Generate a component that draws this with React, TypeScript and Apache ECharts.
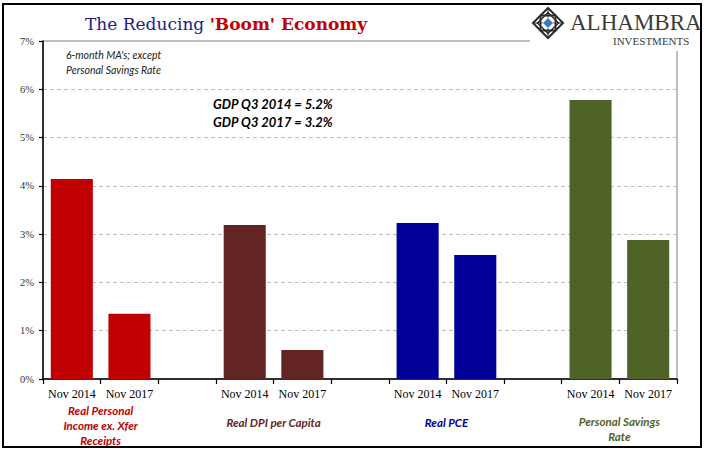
import React, { useEffect, useRef } from "react";
import * as echarts from "echarts";

const periodLabels = ["Nov 2014", "Nov 2017"];
const groupNames = [
  "Real Personal\nIncome ex. Xfer\nReceipts",
  "Real DPI per Capita",
  "Real PCE",
  "Personal Savings\nRate",
];
const incomeExXfer = [4.14, 1.35];
const dpiPerCapita = [3.19, 0.6];
const realPCE = [3.23, 2.57];
const savingsRate = [5.78, 2.88];
const yTicks = [0, 1, 2, 3, 4, 5, 6, 7];
const noteLines = ["6-month MA's; except", "Personal Savings Rate"];
const gdpLines = ["GDP Q3 2014 = 5.2%", "GDP Q3 2017 = 3.2%"];

const groupColors = ["#C00000", "#632523", "#000099", "#4F6228"];
const groupLabelY = [425, 422, 422, 429];

export default function App() {
  const ref = useRef<HTMLDivElement>(null);
  useEffect(() => {
    if (!ref.current) return;
    const chart = echarts.init(ref.current, null, { renderer: "svg" });
    const groups = [incomeExXfer, dpiPerCapita, realPCE, savingsRate];
    const categories: string[] = [];
    const data: any[] = [];
    groups.forEach((vals, gi) => {
      if (gi > 0) {
        categories.push("");
        data.push(null);
      }
      vals.forEach((v, pi) => {
        categories.push(periodLabels[pi]);
        data.push({ value: v, itemStyle: { color: groupColors[gi] } });
      });
    });

    chart.setOption({
      animation: false,
      grid: {
        left: 43,
        right: 28,
        top: 41,
        bottom: 82,
        show: true,
        borderColor: "#808080",
        borderWidth: 1,
        backgroundColor: "transparent",
      },
      xAxis: {
        type: "category",
        data: categories,
        axisLine: { lineStyle: { color: "#000", width: 1.5 } },
        axisTick: { show: true, length: 5, lineStyle: { color: "#000", width: 1.2 }, interval: 0 },
        axisLabel: {
          interval: 0,
          margin: 9,
          fontFamily: "Liberation Serif",
          fontSize: 12,
          color: "#000",
        },
        splitLine: { show: false },
      },
      yAxis: {
        type: "value",
        min: yTicks[0],
        max: yTicks[yTicks.length - 1],
        interval: 1,
        axisLine: { show: true, lineStyle: { color: "#000", width: 1.5 } },
        axisTick: { show: true, length: 4, lineStyle: { color: "#000", width: 1.2 } },
        axisLabel: {
          margin: 9,
          fontFamily: "Liberation Serif",
          fontSize: 10.5,
          color: "#333",
          formatter: (v: number) => `${v}%`,
        },
        splitLine: { show: true, lineStyle: { color: "#C0C0C0", type: [4, 3], width: 1 } },
      },
      series: [
        {
          type: "bar",
          data,
          barWidth: "73%",
        },
      ],
    });

    const px = (i: number) => chart.convertToPixel({ xAxisIndex: 0 }, i) as number;
    const py = (v: number) => chart.convertToPixel({ yAxisIndex: 0 }, v) as number;
    const groupText: any[] = groupNames.map((name, gi) => {
      const i0 = gi * 3;
      const cx = (px(i0) + px(i0 + 1)) / 2;
      return {
        type: "text",
        x: cx,
        y: groupLabelY[gi],
        style: {
          text: name,
          align: "center",
          verticalAlign: "middle",
          fontFamily: "Lato",
          fontStyle: "italic",
          fontWeight: "bold",
          fontSize: 11.5,
          lineHeight: 15,
          fill: groupColors[gi],
        },
      };
    });

    const left = px(0) - (px(1) - px(0)) / 2;
    const noteX = left + 23;

    // logo lattice
    const lcx = 548;
    const lcy = 23;
    const r = 15;
    const dark = "#2b2b2b";
    const logo: any[] = [
      {
        type: "polygon",
        z: 70,
        shape: { points: [[lcx, lcy - r], [lcx + r, lcy], [lcx, lcy + r], [lcx - r, lcy]] },
        style: { fill: "#fff", stroke: dark, lineWidth: 2 },
      },
      {
        type: "rect",
        z: 71,
        shape: { x: lcx - 7.5, y: lcy - 7.5, width: 15, height: 15 },
        style: { fill: "none", stroke: dark, lineWidth: 1.8 },
      },
      {
        type: "polygon",
        z: 71,
        shape: { points: [[lcx, lcy - 10.5], [lcx + 10.5, lcy], [lcx, lcy + 10.5], [lcx - 10.5, lcy]] },
        style: { fill: "none", stroke: dark, lineWidth: 1.5 },
      },
      {
        type: "line",
        z: 71,
        shape: { x1: lcx - r, y1: lcy, x2: lcx + r, y2: lcy },
        style: { stroke: dark, lineWidth: 1 },
      },
      {
        type: "line",
        z: 71,
        shape: { x1: lcx, y1: lcy - r, x2: lcx, y2: lcy + r },
        style: { stroke: dark, lineWidth: 1 },
      },
      {
        type: "polygon",
        z: 72,
        shape: { points: [[lcx, lcy - 5.5], [lcx + 5.5, lcy], [lcx, lcy + 5.5], [lcx - 5.5, lcy]] },
        style: { fill: "#3B78C4", stroke: "#fff", lineWidth: 1 },
      },
    ];

    chart.setOption({
      graphic: [
        {
          type: "rect",
          z: 100,
          shape: { x: 3, y: 4, width: 698, height: 443 },
          style: { fill: "none", stroke: "#000", lineWidth: 2 },
        },
        {
          type: "rect",
          z: 50,
          shape: { x: 530, y: 6, width: 169, height: 45 },
          style: { fill: "#fff" },
        },
        ...logo,
        {
          type: "text",
          z: 60,
          x: 570,
          y: 22,
          style: {
            text: "ALHAMBRA",
            fontFamily: "Liberation Serif",
            fontSize: 23,
            fill: "#3a3a3a",
            verticalAlign: "middle",
          },
        },
        {
          type: "text",
          z: 60,
          x: 613,
          y: 41,
          style: {
            text: "INVESTMENTS",
            fontFamily: "Liberation Serif",
            fontSize: 11,
            fill: "#3a3a3a",
            verticalAlign: "middle",
          },
        },
        {
          type: "text",
          z: 60,
          x: 85,
          y: 24,
          style: {
            text: "{a|The Reducing }{b|'Boom' Economy}",
            verticalAlign: "middle",
            rich: {
              a: { fontFamily: "DejaVu Serif", fontSize: 17, fill: "#1C1C8C", color: "#1C1C8C" },
              b: { fontFamily: "DejaVu Serif", fontSize: 17, fontWeight: "bold", fill: "#C00000", color: "#C00000" },
            },
          },
        },
        ...noteLines.map((t, i) => ({
          type: "text",
          z: 60,
          x: noteX,
          y: py(6.7) + i * 15,
          style: {
            text: t,
            verticalAlign: "middle",
            fontFamily: "Lato",
            fontStyle: "italic",
            fontSize: 10.5,
            fill: "#222",
          },
        })),
        ...gdpLines.map((t, i) => ({
          type: "text",
          z: 60,
          x: 213,
          y: 104 + i * 18,
          style: {
            text: t,
            verticalAlign: "middle",
            fontFamily: "Lato",
            fontStyle: "italic",
            fontWeight: "bold",
            fontSize: 13,
            fill: "#000",
          },
        })),
        ...groupText,
      ],
    });

    return () => chart.dispose();
  }, []);
  return <div ref={ref} style={{ width: 705, height: 461, position: "absolute", left: 0, top: 0 }} />;
}
